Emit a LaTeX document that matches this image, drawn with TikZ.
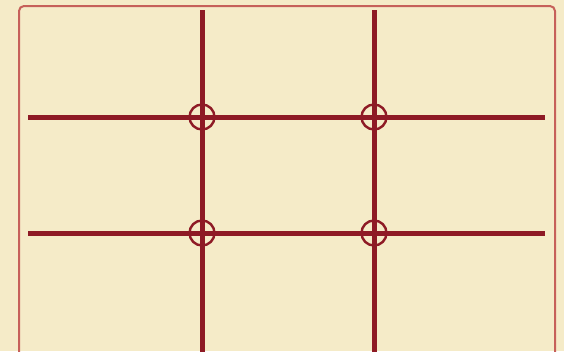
\documentclass[tikz,border=0pt]{standalone}
\usepackage{xcolor}
\definecolor{Cream}{HTML}{F5EBC8}
\definecolor{FrameRed}{HTML}{C6605A}
\definecolor{GridRed}{HTML}{8E1A25}

\begin{document}
\begin{tikzpicture}[x=1pt,y=-1pt,
    gridline/.style={line width=5pt,GridRed},
    crosshair/.style={circle,draw=GridRed,line width=2.4pt,minimum size=25pt,inner sep=0pt}]
  \useasboundingbox (0,0) rectangle (564,351);
  \clip (0,0) rectangle (564,351);
  \fill[Cream] (0,0) rectangle (564,351);
  \draw[FrameRed,line width=2pt,rounded corners=5pt] (19,6) rectangle (555,380);
  % thirds
  \foreach \y/\n in {117/a,233/b}{
    \coordinate (\n W) at (28,\y);
    \coordinate (\n E) at (545,\y);
    \draw[gridline] (\n W) -- (\n E);
  }
  \foreach \x/\n in {202/c,374/d}{
    \coordinate (\n N) at (\x,10);
    \coordinate (\n S) at (\x,360);
    \draw[gridline] (\n N) -- (\n S);
  }
  % power points
  \foreach \x/\i in {202/1,374/2}{
    \foreach \y/\j in {117/1,233/2}{
      \node[crosshair] (p\i\j) at (\x,\y) {};
    }
  }
\end{tikzpicture}
\end{document}
